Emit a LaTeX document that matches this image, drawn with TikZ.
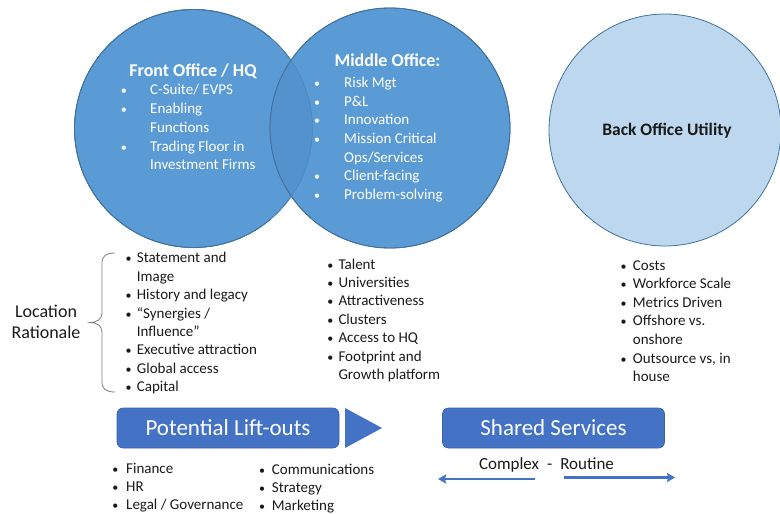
\documentclass[tikz,border=0pt]{standalone}
\usepackage{fontspec}
\setmainfont{Carlito}
\usetikzlibrary{arrows.meta}

\definecolor{officeblue}{HTML}{5B9BD5}
\definecolor{officeedge}{HTML}{41719C}
\definecolor{lensblue}{HTML}{5392CD}
\definecolor{paleblue}{HTML}{BDD7EE}
\definecolor{boxblue}{HTML}{4472C4}
\definecolor{ink}{HTML}{1A1A1A}
\definecolor{bracegray}{HTML}{7F7F7F}

\tikzset{
  venn/.style={circle, inner sep=0pt, fill=officeblue, draw=officeedge, line width=0.8pt},
  utility/.style={circle, inner sep=0pt, fill=paleblue, draw=officeedge, line width=0.8pt},
  rim/.style={draw=officeedge, line width=0.8pt},
  intitle/.style={inner sep=0pt, anchor=base, text=white, font=\fontsize{18}{21}\selectfont\bfseries},
  intext/.style={inner sep=0pt, anchor=base west, text=white, font=\fontsize{15}{18}\selectfont},
  indot/.style={inner sep=0pt, anchor=base, text=white, font=\fontsize{12}{14}\selectfont},
  bodytext/.style={inner sep=0pt, anchor=base west, text=ink, font=\fontsize{15}{18}\selectfont},
  bodydot/.style={inner sep=0pt, anchor=base, text=ink, font=\fontsize{12}{14}\selectfont},
  sidelabel/.style={inner sep=0pt, anchor=base, text=ink, font=\fontsize{18}{21}\selectfont},
  bluebox/.style={rectangle, rounded corners=6pt, fill=boxblue, draw=boxblue!85!black,
    line width=0.6pt, minimum width=222pt, minimum height=40pt, inner sep=0pt,
    text=white, font=\fontsize{23}{26}\selectfont},
  flow/.style={draw=boxblue, line width=2.4pt, -{Stealth[length=8pt,width=9pt,inset=1pt]}},
}

\begin{document}
\begin{tikzpicture}[x=1pt, y=-1pt]
\useasboundingbox (0,0) rectangle (780,514);

% Venn circles: front office under middle office, with a darker lens
\node[venn, minimum size=238pt] (front) at (193.5,128.5) {};
\node[venn, minimum size=240pt] (middle) at (390,128) {};
\begin{scope}
  \clip (front.center) circle[radius=119pt];
  \fill[lensblue] (middle.center) circle[radius=120pt];
\end{scope}
\draw[rim] (middle.center) circle[radius=120pt];
\draw[officeedge!40!lensblue, line width=0.5pt] (front.center) circle[radius=119pt];
\draw[rim] (front.center) ++(-50:119pt) arc[start angle=-50, end angle=-310, radius=119pt];

% Back office circle
\node[utility, minimum size=232pt] (back) at (665,130) {};

% Front office contents
\node[intitle] (fotitle) at (193,76) {Front Office / HQ};
\foreach \t [count=\i] in {C-Suite/ EVPS, Enabling, Functions, Trading Floor in, Investment Firms}
  \node[intext] (fo\i) at (150,75.4+18.9*\i) {\t};
\foreach \i in {1,2,4}
  \node[indot] (fodot\i) at (123.8,75.4+18.9*\i) {\textbullet};

% Middle office contents
\node[intitle] (motitle) at (387.5,66.7) {Middle Office:};
\foreach \t [count=\i] in {Risk Mgt, P\&L, Innovation, Mission Critical, Ops/Services, Client-facing, Problem-solving}
  \node[intext] (mo\i) at (344,68.6+18.7*\i) {\t};
\foreach \i in {1,2,3,4,6,7}
  \node[indot] (modot\i) at (317.2,68.6+18.7*\i) {\textbullet};

% Back office title
\node[inner sep=0pt, anchor=base, text=ink, font=\fontsize{17.5}{20}\selectfont\bfseries]
  (botitle) at (667,135) {Back Office Utility};

% Location rationale with its brace
\node[sidelabel] (loc1) at (46,317.3) {Location};
\node[sidelabel] (loc2) at (46,338.3) {Rationale};
\draw[bracegray, line width=0.8pt]
  (115,253) .. controls (106,253) and (102,256) .. (102,263) -- (102,313)
  .. controls (102,319) and (97,322.5) .. (90,322.5)
  .. controls (97,322.5) and (102,326) .. (102,332) -- (102,382)
  .. controls (102,389) and (106,392) .. (115,392);

\foreach \t [count=\i] in {Statement and, Image, History and legacy, “Synergies /, Influence”, Executive attraction, Global access, Capital}
  \node[bodytext] (lr\i) at (136.7,244.3+18.43*\i) {\t};
\foreach \i in {1,3,4,6,7,8}
  \node[bodydot] (lrdot\i) at (128.7,244.3+18.43*\i) {\textbullet};

% Middle office rationale
\foreach \t [count=\i] in {Talent, Universities, Attractiveness, Clusters, Access to HQ, Footprint and, Growth platform}
  \node[bodytext] (mr\i) at (338.3,250.6+18.4*\i) {\t};
\foreach \i in {1,2,3,4,5,6}
  \node[bodydot] (mrdot\i) at (330.3,250.6+18.4*\i) {\textbullet};

% Back office rationale
\foreach \t [count=\i] in {Costs, Workforce Scale, Metrics Driven, Offshore vs., onshore, {Outsource vs, in}, house}
  \node[bodytext] (br\i) at (632.7,251.4+18.6*\i) {\t};
\foreach \i in {1,2,3,4,6}
  \node[bodydot] (brdot\i) at (623.7,251.4+18.6*\i) {\textbullet};

% Potential lift-outs
\node[bluebox] (lift) at (228,428) {Potential Lift-outs};
\fill[boxblue] (345,408) -- (345,448) -- (382,428) -- cycle;
\foreach \t [count=\i] in {Finance, HR, Legal / Governance}
  \node[bodytext] (pa\i) at (126,455+18.3*\i) {\t};
\foreach \i in {1,2,3}
  \node[bodydot] (padot\i) at (115.3,455+18.3*\i) {\textbullet};
\foreach \t [count=\i] in {Communications, Strategy, Marketing}
  \node[bodytext] (pb\i) at (271.7,455.7+18.3*\i) {\t};
\foreach \i in {1,2,3}
  \node[bodydot] (pbdot\i) at (262,455.7+18.3*\i) {\textbullet};

% Shared services
\node[bluebox] (shared) at (553.5,428) {Shared Services};
\node[inner sep=0pt, anchor=base, text=ink, font=\fontsize{17}{20}\selectfont]
  (scale) at (546.5,469) {Complex\hspace{8pt}-\hspace{8pt}Routine};
\coordinate (cxstart) at (535,479);
\coordinate (cxend) at (438,479);
\coordinate (rtstart) at (564,477.5);
\coordinate (rtend) at (675,477.5);
\draw[flow] (cxstart) -- (cxend);
\draw[flow] (rtstart) -- (rtend);

\end{tikzpicture}
\end{document}
